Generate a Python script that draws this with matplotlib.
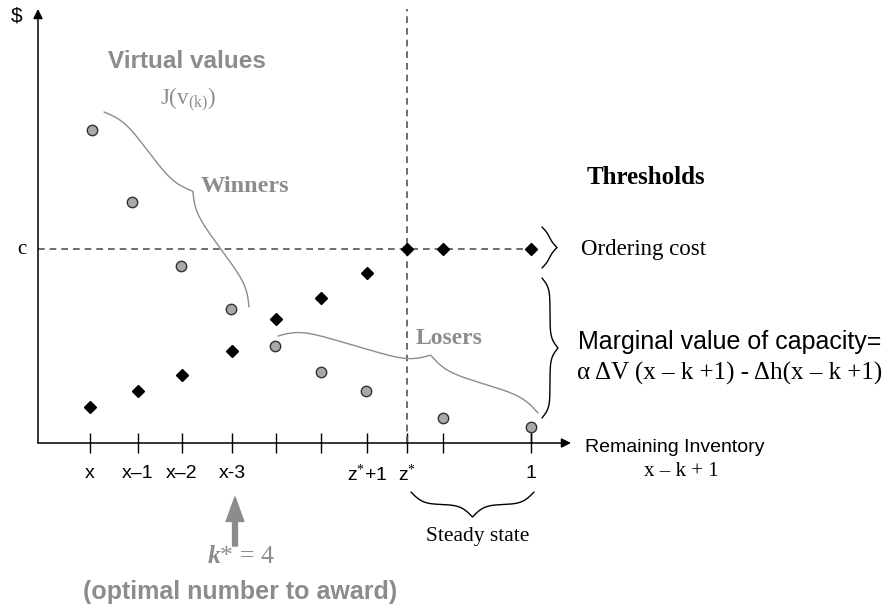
import numpy as np
import matplotlib.pyplot as plt

SERIF = ['Liberation Serif', 'DejaVu Serif']
SANS = ['Liberation Sans', 'DejaVu Sans']
plt.rcParams['font.family'] = SERIF
plt.rcParams['mathtext.fontset'] = 'custom'
plt.rcParams['mathtext.rm'] = 'Liberation Serif'
plt.rcParams['mathtext.it'] = 'Liberation Serif:italic:bold'

# remaining inventory levels along the x axis (schematic spacing)
inv_pos = [52, 100, 144, 194, 238, 283, 329, 369, 405, 493]
inv_labels = ['x', 'x–1', 'x–2', 'x-3', '', '', 'z$^{*}$+1', 'z$^{*}$', '', '1']

# thresholds (black diamonds)
threshold = [36, 52, 68, 92, 124, 145, 170, 194, 194, 194]

# virtual values J(v_(k)) (gray circles)
virtual_pos = [54, 94, 143, 193, 237, 283, 328, 405, 493]
virtual_val = [313, 241, 177, 134, 97, 71, 52, 25, 16]

cost = 194      # ordering cost c
z_star = 369    # steady state level z*
k_star = 197    # x-3 -> k* = 4

GRAY = '#8c8c8c'


def P(px, py):
    # picture pixel -> data coords (origin at the axes corner)
    return px - 38, 443 - py


def _half(frac, beta):
    w = np.linspace(0, frac, 150)
    f = 1 / (1 + np.exp(-beta * w)) + 1 / (1 + np.exp(-beta * (w - frac)))
    return w, (f - f[0]) / (f[-1] - f[0])


def brace(ax, p1, p2, depth, mid=0.5, color='k', lw=1.0, r=7):
    p1 = np.array(P(*p1), float)
    p2 = np.array(P(*p2), float)
    d = p2 - p1
    L = np.hypot(*d)
    u = d / L
    n = np.array([-u[1], u[0]])
    beta = L / r
    w1, f1 = _half(mid, beta)
    w2, f2 = _half(1 - mid, beta)
    t = np.concatenate([w1, 1 - w2[::-1]])
    g = np.concatenate([f1, f2[::-1]])
    pts = p1[None, :] + t[:, None] * d[None, :] + depth * g[:, None] * n[None, :]
    ax.plot(pts[:, 0], pts[:, 1], color=color, lw=lw, solid_capstyle='round')


fig = plt.figure(figsize=(8.96, 6.09), dpi=100)
ax = fig.add_axes([0, 0, 1, 1])
ax.set_xlim(-38, 858)
ax.set_ylim(-166, 443)
ax.axis('off')

# axes with arrow heads
ax.annotate('', xy=(533, 0), xytext=(0, 0),
            arrowprops=dict(arrowstyle='-|>', lw=1.1, color='k', mutation_scale=14,
                            shrinkA=0, shrinkB=0))
ax.annotate('', xy=(0, 434), xytext=(0, 0),
            arrowprops=dict(arrowstyle='-|>', lw=1.1, color='k', mutation_scale=14,
                            shrinkA=0, shrinkB=0))

# ticks and labels
ax.vlines(inv_pos, -10, 10, colors='k', lw=1)
ax.vlines(inv_pos[-1], 0, virtual_val[-1], colors='k', lw=1)
for xp, lab in zip(inv_pos, inv_labels):
    ax.text(xp, P(0, 474)[1], lab, family=SANS, fontsize=14, ha='center', va='center')

# dashed guides
ax.hlines(cost, 0, inv_pos[-1], colors='#555555', lw=1.2, linestyles=(0, (4, 3)))
ax.vlines(z_star, 0, 434, colors='#555555', lw=1.2, linestyles=(0, (4, 3)))

# data points
ax.plot(virtual_pos, virtual_val, 'o', ms=7.5, mfc='#a8a8a8', mec='#333333', mew=1)
ax.plot(inv_pos, threshold, 'D', ms=6.5, color='k')

# axis labels
ax.text(*P(17, 16), '$', family=SANS, fontsize=15, ha='center', va='center')
ax.text(*P(22, 249), 'c', fontsize=15, ha='center', va='center')
ax.text(*P(585, 447), 'Remaining Inventory', family=SANS, fontsize=14, ha='left', va='center')
ax.text(*P(681, 472), 'x – k + 1', fontsize=15, ha='center', va='center')

# virtual values annotation
ax.text(*P(187, 62), 'Virtual values', family=SANS, fontsize=17.5, weight='bold',
        color=GRAY, ha='center', va='center')
ax.text(*P(188, 100), 'J(v$_{\\rm (k)}$)', fontsize=16.5, color=GRAY, ha='center', va='center')
ax.text(*P(245, 187), 'Winners', fontsize=17.5, weight='bold', color=GRAY, ha='center', va='center')
ax.text(*P(449, 339), 'Losers', fontsize=17, weight='bold', color=GRAY, ha='center', va='center')
brace(ax, (104, 112), (249, 307), 24, mid=0.48, color=GRAY, lw=1.0, r=10)
brace(ax, (278, 336), (538, 413), 25, mid=0.56, color=GRAY, lw=1.0, r=10)

# thresholds side
ax.text(*P(646, 177), 'Thresholds', fontsize=18, weight='bold', ha='center', va='center')
brace(ax, (542, 227), (542, 268), 15, lw=1.0, r=4)
ax.text(*P(581, 250), 'Ordering cost', fontsize=16.5, ha='left', va='center')
brace(ax, (542, 278), (542, 418), 16, lw=1.0, r=5)
ax.text(*P(578, 342), 'Marginal value of capacity=', family=SANS, fontsize=18,
        ha='left', va='center')
ax.text(*P(577, 373), 'α ΔV (x – k +1) - Δh(x – k +1)', fontsize=18, ha='left', va='center')

# steady state
brace(ax, (411, 492), (534, 492), -25, lw=1.0, r=6)
ax.text(*P(478, 536), 'Steady state', fontsize=15.5, ha='center', va='center')

# k* arrow
ax.annotate('', xy=(k_star, P(0, 497)[1]), xytext=(k_star, P(0, 546)[1]),
            arrowprops=dict(arrowstyle='simple,head_length=1.1,head_width=0.8,tail_width=0.22',
                            color=GRAY, mutation_scale=16, shrinkA=0, shrinkB=0))
ax.text(*P(241, 557), '$k$* = 4', fontsize=18.5, color=GRAY, ha='center', va='center')
ax.text(*P(240, 592), '(optimal number to award)', family=SANS, fontsize=18, weight='bold',
        color=GRAY, ha='center', va='center')

fig.savefig('out.png', dpi=100)
